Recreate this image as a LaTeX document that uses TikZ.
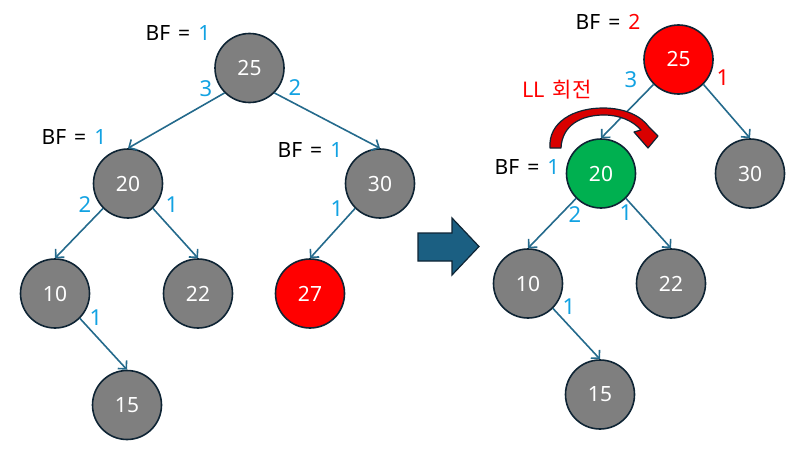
\documentclass[tikz,border=0pt]{standalone}
\usepackage{fontspec}
\setmainfont{Noto Sans}
\newfontfamily\krfont{Noto Sans CJK KR}
\usetikzlibrary{arrows.meta}
\definecolor{edgeblue}{HTML}{246A8C}
\definecolor{bfblue}{HTML}{12A2E2}
\definecolor{nodegray}{HTML}{7F7F7F}
\definecolor{nodeborder}{HTML}{0E2434}
\definecolor{nodered}{HTML}{FF0000}
\definecolor{nodegreen}{HTML}{00B050}
\definecolor{bigarrow}{HTML}{1B5F82}
\newcommand{\bftext}[2]{BF\hspace{8pt}=\hspace{8pt}\textcolor{#1}{#2}}
\begin{document}
\begin{tikzpicture}[x=1pt,y=-1pt,
  tnode/.style={circle,draw=nodeborder,line width=1.6pt,fill=nodegray,minimum size=69pt,inner sep=0pt,
    text=white,font=\fontsize{21}{25}\selectfont},
  redn/.style={tnode,fill=nodered},
  greenn/.style={tnode,fill=nodegreen},
  conn/.style={draw=edgeblue,line width=1.6pt,-{Straight Barb[length=6pt,width=12pt,line width=1.6pt]}},
  bflabel/.style={font=\fontsize{21}{25}\selectfont,text=black,inner sep=0pt},
  elabel/.style={font=\fontsize{22}{26}\selectfont,text=bfblue,inner sep=0pt},
  relabel/.style={elabel,text=nodered}
]
\useasboundingbox (0,0) rectangle (794,460);
% left tree
\node[tnode] (L25) at (249.5,68) {25};
\node[tnode] (L20) at (128,183.5) {20};
\node[tnode] (L30) at (380,183.5) {30};
\node[tnode] (L10) at (55,293.5) {10};
\node[tnode] (L22) at (198,293.5) {22};
\node[redn]  (L27) at (310,293.5) {27};
\node[tnode] (L15) at (127,405) {15};
\path[conn] (L25.south west) -- (L20.north);
\path[conn] (L25.south east) -- (L30.north);
\path[conn] (L20.south west) -- (L10.north);
\path[conn] (L20.south east) -- (L22.north);
\path[conn] (L30.south west) -- (L27.north);
\path[conn] (L10.south east) -- (L15.north);
\node[bflabel] (bfL25) at (178,33) {\bftext{bfblue}{1}};
\node[bflabel] (bfL20) at (74,137) {\bftext{bfblue}{1}};
\node[bflabel] (bfL30) at (310,150) {\bftext{bfblue}{1}};
\node[elabel] (eL1) at (206,89) {3};
\node[elabel] (eL2) at (295,88) {2};
\node[elabel] (eL3) at (85,205) {2};
\node[elabel] (eL4) at (172,205) {1};
\node[elabel] (eL5) at (337,209) {1};
\node[elabel] (eL6) at (96,318) {1};
% big arrow
\filldraw[fill=bigarrow,draw=nodeborder,line width=1.2pt]
  (418,233) -- (452,233) -- (452,218) -- (479,246.5) -- (452,275) -- (452,261) -- (418,261) -- cycle;
% right tree
\node[redn]   (R25) at (678.5,59.5) {25};
\node[greenn] (R20) at (601,173.5) {20};
\node[tnode]  (R30) at (750,173.5) {30};
\node[tnode]  (R10) at (528,283.5) {10};
\node[tnode]  (R22) at (671,283.5) {22};
\node[tnode]  (R15) at (600,394.5) {15};
\path[conn] (R25.south west) -- (R20.north);
\path[conn] (R25.south east) -- (R30.north);
\path[conn] (R20.south west) -- (R10.north);
\path[conn] (R20.south east) -- (R22.north);
\path[conn] (R10.south east) -- (R15.north);
\node[bflabel] (bfR25) at (608,22) {\bftext{nodered}{2}};
\node[bflabel] (bfR20) at (527,167) {\bftext{bfblue}{1}};
\node[elabel] (eR1) at (631,80) {3};
\node[relabel] (eR2) at (723,78) {1};
\node[elabel] (eR3) at (575,215) {2};
\node[elabel] (eR4) at (626,213) {1};
\node[elabel] (eR5) at (569,307) {1};
\node[font=\fontsize{21}{25}\selectfont\krfont,text=nodered,inner sep=0pt] (ll) at (557,90) {LL\hspace{3pt} 회전};
% curved rotation arrow
\filldraw[fill=nodered!85!black,draw=nodeborder,line width=1.2pt,line join=round]
  (550,148) .. controls (548,122) and (574,108) .. (603,108)
  .. controls (625,108) and (641,116) .. (649,127)
  -- (658,136) -- (648,148) -- (634,132) -- (641,130)
  .. controls (633,121) and (620,115) .. (604,115)
  .. controls (580,115) and (562,126) .. (561,148) -- cycle;
\end{tikzpicture}
\end{document}
